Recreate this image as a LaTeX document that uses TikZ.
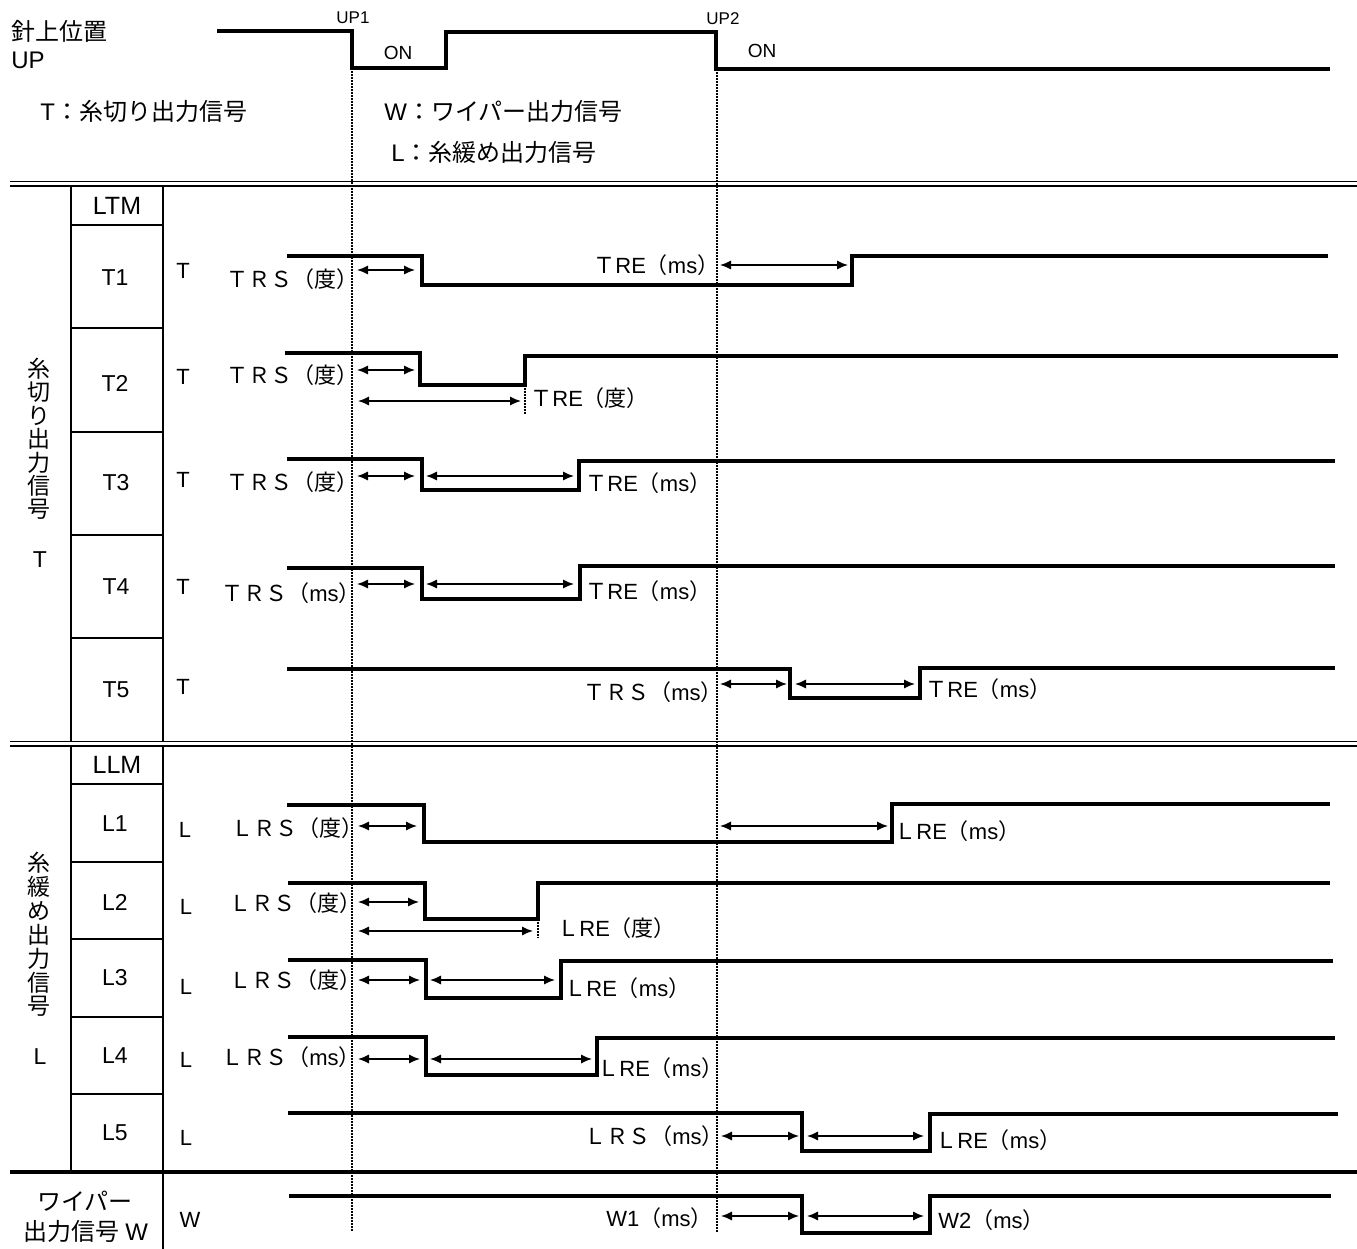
\documentclass[tikz,border=0pt]{standalone}
\usepackage{fontspec}
\setmainfont{Noto Sans CJK JP}
\newfontfamily\lat{Liberation Sans}
\usetikzlibrary{arrows.meta}
\begin{document}
\begin{tikzpicture}[x=0.5pt,y=-0.5pt,
  sig/.style={line width=1.8pt, line join=miter},
  rulel/.style={line width=1.2pt},
  dblline/.style={line width=0.95pt},
  thick rule/.style={line width=2pt},
  dimarrow/.style={line width=0.8pt, {Latex[length=5.5pt,width=4.6pt]}-{Latex[length=5.5pt,width=4.6pt]}},
  guide/.style={line width=0.8pt, dash pattern=on 0.75pt off 0.75pt},
  lbl/.style={anchor=west, inner sep=0pt, text height=9.7pt, text depth=1.3pt, font=\fontsize{11}{13}\selectfont},
  txt/.style={inner sep=0pt, text height=10.6pt, text depth=1.4pt, font=\fontsize{12}{14}\selectfont},
  cell/.style={inner sep=0pt, font=\fontsize{11.5}{13}\selectfont},
  latcell/.style={inner sep=0pt, font=\lat\fontsize{11.5}{13}\selectfont},
  small/.style={inner sep=0pt, font=\lat\fontsize{8.5}{10}\selectfont},
]
\fill[white] (0,0) rectangle (1357,1249);
\useasboundingbox (0,0) rectangle (1357,1249);

% ---------- header ----------
\node[txt, anchor=west] (hdrA) at (11,31) {針上位置};
\node[txt, anchor=west] (hdrB) at (11,59) {{\lat UP}};
\node[txt, anchor=west] (legT) at (40,111) {{\lat T}：糸切り出力信号};
\node[txt, anchor=west] (legW) at (384,111) {{\lat W}：ワイパー出力信号};
\node[txt, anchor=west] (legL) at (391,152) {{\lat L}：糸緩め出力信号};
\node[small] (up1) at (353,18) {UP1};
\node[small] (up2) at (723,19) {UP2};
\node[small, font=\lat\fontsize{9.5}{11}\selectfont] (on1) at (398,53) {ON};
\node[small, font=\lat\fontsize{9.5}{11}\selectfont] (on2) at (762,51) {ON};
\draw[sig] (217,31) -- (352,31) -- (352,68) -- (446,68) -- (446,32) -- (716,32) -- (716,69) -- (1330,69);

% ---------- guides ----------
\draw[guide] (352,68) -- (352,1232);
\draw[guide] (717,69) -- (717,1232);

% ---------- rules ----------
\draw[dblline] (10,181.5) -- (1357,181.5);
\draw[dblline] (10,186) -- (1357,186);
\draw[dblline] (10,741.5) -- (1357,741.5);
\draw[dblline] (10,746) -- (1357,746);
\draw[thick rule] (10,1172) -- (1357,1172);

\draw[rulel] (71,186) -- (71,741.5);
\draw[rulel] (163,186) -- (163,741.5);
\draw[rulel] (71,746) -- (71,1172);
\draw[rulel] (163,746) -- (163,1249);
\foreach \yy in {225,328,432,535,638,784,862,939,1017,1094}
  \draw[rulel] (71,\yy) -- (163,\yy);

% ---------- table labels ----------
\node[latcell, font=\lat\fontsize{12.5}{14}\selectfont] (ltm) at (117,206) {LTM};
\node[latcell] (t1) at (115,278) {T1};
\node[latcell] (t2) at (115,383) {T2};
\node[latcell] (t3) at (116,483) {T3};
\node[latcell] (t4) at (116,587) {T4};
\node[latcell] (t5) at (116,690) {T5};
\node[latcell, font=\lat\fontsize{12.5}{14}\selectfont] (llm) at (117,765) {LLM};
\node[latcell] (l1) at (115,824) {L1};
\node[latcell] (l2) at (115,902) {L2};
\node[latcell] (l3) at (115,978) {L3};
\node[latcell] (l4) at (115,1056) {L4};
\node[latcell] (l5) at (115,1133) {L5};

\node[latcell, font=\lat\fontsize{11}{13}\selectfont] (ct1) at (183,271) {T};
\node[latcell, font=\lat\fontsize{11}{13}\selectfont] (ct2) at (183,377) {T};
\node[latcell, font=\lat\fontsize{11}{13}\selectfont] (ct3) at (183,480) {T};
\node[latcell, font=\lat\fontsize{11}{13}\selectfont] (ct4) at (183,587) {T};
\node[latcell, font=\lat\fontsize{11}{13}\selectfont] (ct5) at (183,687) {T};
\node[latcell, font=\lat\fontsize{11}{13}\selectfont] (cl1) at (185,830) {L};
\node[latcell, font=\lat\fontsize{11}{13}\selectfont] (cl2) at (186,907) {L};
\node[latcell, font=\lat\fontsize{11}{13}\selectfont] (cl3) at (186,987) {L};
\node[latcell, font=\lat\fontsize{11}{13}\selectfont] (cl4) at (186,1060) {L};
\node[latcell, font=\lat\fontsize{11}{13}\selectfont] (cl5) at (186,1138) {L};
\node[latcell, font=\lat\fontsize{11}{13}\selectfont] (cw) at (190,1220) {W};

\foreach \c [count=\i] in {糸,切,り,出,力,信,号}
  \node[cell] (vt\i) at (39,{369+23.4*(\i-1)}) {\c};
\node[latcell] (vtT) at (40,560) {T};
\foreach \c [count=\i] in {糸,緩,め,出,力,信,号}
  \node[cell] (vl\i) at (39,{863+23.9*(\i-1)}) {\c};
\node[latcell] (vlL) at (40,1057) {L};

\node[txt] (wip1) at (85,1201) {ワイパー};
\node[txt] (wip2) at (86,1231) {出力信号 {\lat W}};

% ---------- T1 ----------
\draw[sig] (287,256) -- (422,256) -- (422,285) -- (852,285) -- (852,256) -- (1328,256);
\draw[dimarrow] (357,270) -- (415,270);
\draw[dimarrow] (720,265) -- (848,265);
\node[lbl] (t1s) at (226,279) {ＴＲＳ（度）};
\node[lbl] (t1e) at (593,265) {Ｔ{\lat RE}（{\lat ms}）};

% ---------- T2 ----------
\draw[sig] (285,353) -- (420,353) -- (420,385) -- (525,385) -- (525,356) -- (1338,356);
\draw[dimarrow] (357,370) -- (415,370);
\draw[dimarrow] (358,401) -- (521,401);
\draw[guide] (525,385) -- (525,415);
\node[lbl] (t2s) at (226,375) {ＴＲＳ（度）};
\node[lbl] (t2e) at (530,398) {Ｔ{\lat RE}（度）};

% ---------- T3 ----------
\draw[sig] (287,459) -- (422,459) -- (422,490) -- (579,490) -- (579,461) -- (1335,461);
\draw[dimarrow] (357,476) -- (415,476);
\draw[dimarrow] (426,476) -- (574,476);
\node[lbl] (t3s) at (226,482) {ＴＲＳ（度）};
\node[lbl] (t3e) at (585,483) {Ｔ{\lat RE}（{\lat ms}）};

% ---------- T4 ----------
\draw[sig] (287,568) -- (422,568) -- (422,599) -- (580,599) -- (580,566) -- (1335,566);
\draw[dimarrow] (357,584) -- (415,584);
\draw[dimarrow] (426,584) -- (574,584);
\node[lbl] (t4s) at (221,593) {ＴＲＳ（{\lat ms}）};
\node[lbl] (t4e) at (585,591) {Ｔ{\lat RE}（{\lat ms}）};

% ---------- T5 ----------
\draw[sig] (287,669) -- (790,669) -- (790,698) -- (920,698) -- (920,668) -- (1335,668);
\draw[dimarrow] (720,684) -- (787,684);
\draw[dimarrow] (795,684) -- (915,684);
\node[lbl] (t5s) at (583,692) {ＴＲＳ（{\lat ms}）};
\node[lbl] (t5e) at (925,689) {Ｔ{\lat RE}（{\lat ms}）};

% ---------- L1 ----------
\draw[sig] (287,805) -- (424,805) -- (424,842) -- (892,842) -- (892,804) -- (1330,804);
\draw[dimarrow] (358,826) -- (417,826);
\draw[dimarrow] (720,826) -- (888,826);
\node[lbl] (l1s) at (231,828) {ＬＲＳ（度）};
\node[lbl] (l1e) at (894,831) {Ｌ{\lat RE}（{\lat ms}）};

% ---------- L2 ----------
\draw[sig] (288,883) -- (425,883) -- (425,919) -- (538,919) -- (538,883) -- (1330,883);
\draw[dimarrow] (358,902) -- (419,902);
\draw[dimarrow] (358,931) -- (533,931);
\draw[guide] (538,919) -- (538,938);
\node[lbl] (l2s) at (229,903) {ＬＲＳ（度）};
\node[lbl] (l2e) at (557,928) {Ｌ{\lat RE}（度）};

% ---------- L3 ----------
\draw[sig] (288,960) -- (426,960) -- (426,998) -- (561,998) -- (561,961) -- (1333,961);
\draw[dimarrow] (358,980) -- (420,980);
\draw[dimarrow] (430,980) -- (555,980);
\node[lbl] (l3s) at (229,980) {ＬＲＳ（度）};
\node[lbl] (l3e) at (564,988) {Ｌ{\lat RE}（{\lat ms}）};

% ---------- L4 ----------
\draw[sig] (288,1037) -- (426,1037) -- (426,1075) -- (597,1075) -- (597,1038) -- (1335,1038);
\draw[dimarrow] (358,1059) -- (420,1059);
\draw[dimarrow] (430,1059) -- (592,1059);
\node[lbl] (l4s) at (221,1057) {ＬＲＳ（{\lat ms}）};
\node[lbl] (l4e) at (597,1068) {Ｌ{\lat RE}（{\lat ms}）};

% ---------- L5 ----------
\draw[sig] (288,1113) -- (802,1113) -- (802,1151) -- (930,1151) -- (930,1114) -- (1338,1114);
\draw[dimarrow] (721,1136) -- (799,1136);
\draw[dimarrow] (807,1136) -- (924,1136);
\node[lbl] (l5s) at (584,1136) {ＬＲＳ（{\lat ms}）};
\node[lbl] (l5e) at (935,1140) {Ｌ{\lat RE}（{\lat ms}）};

% ---------- W ----------
\draw[sig] (289,1196) -- (802,1196) -- (802,1233) -- (930,1233) -- (930,1196) -- (1331,1196);
\draw[dimarrow] (721,1216) -- (799,1216);
\draw[dimarrow] (807,1216) -- (924,1216);
\node[lbl] (w1) at (606,1218) {{\lat W1}（{\lat ms}）};
\node[lbl] (w2) at (938,1220) {{\lat W2}（{\lat ms}）};
\end{tikzpicture}
\end{document}
